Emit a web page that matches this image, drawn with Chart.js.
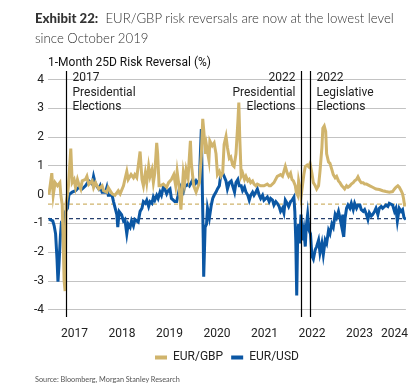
<!DOCTYPE html>
<html>
<head>
<meta charset="utf-8">
<script src="https://cdn.jsdelivr.net/npm/chart.js@4.4.1/dist/chart.umd.min.js"></script>
<style>
  body { margin: 0; background: #fff; }
  #wrap { position: relative; width: 410px; height: 390px; overflow: hidden; }
  #chart { position: absolute; left: 0; top: 0; }
  .txt { position: absolute; white-space: nowrap; }
  #title { left: 35px; top: 8px; font: 300 13.2px/20px Lato, 'Open Sans', sans-serif; color: #2e2e2e; }
  #title b { font-weight: 900; color: #333; }
  #ytitle { left: 48px; top: 55px; font: 12px/14px Roboto, sans-serif; color: #111; }
  #source { left: 35px; top: 375px; font: 7.3px/10px Lato, sans-serif; color: #555; }
</style>
</head>
<body>
<div id="wrap">
  <canvas id="chart" width="410" height="390"></canvas>
  <div class="txt" id="title"><b>Exhibit 22:</b>&nbsp; EUR/GBP risk reversals are now at the lowest level<br>since October 2019</div>
  <div class="txt" id="ytitle">1-Month 25D Risk Reversal (%)</div>
  <div class="txt" id="source">Source: Bloomberg, Morgan Stanley Research</div>
</div>
<script>
// 1M 25D risk reversals, dates as decimal years
const gbpDates = [
  2016.96, 2017.02, 2017.05, 2017.09, 2017.14, 2017.19, 2017.21, 2017.24, 2017.28, 2017.30,
  2017.32, 2017.35, 2017.37, 2017.42, 2017.45, 2017.49, 2017.52, 2017.56, 2017.59, 2017.63,
  2017.66, 2017.73, 2017.76, 2017.80, 2017.87, 2017.90, 2017.94, 2018.01, 2018.08, 2018.11,
  2018.18, 2018.21, 2018.29, 2018.35, 2018.42, 2018.46, 2018.53, 2018.56, 2018.60, 2018.63,
  2018.69, 2018.74, 2018.77, 2018.81, 2018.88, 2018.92, 2018.95, 2018.99, 2019.02, 2019.06,
  2019.09, 2019.13, 2019.16, 2019.19, 2019.23, 2019.25, 2019.28, 2019.31, 2019.37, 2019.44,
  2019.48, 2019.54, 2019.59, 2019.63, 2019.66, 2019.70, 2019.74, 2019.79, 2019.82, 2019.85,
  2019.89, 2019.94, 2019.96, 2020.01, 2020.06, 2020.13, 2020.17, 2020.20, 2020.22, 2020.26,
  2020.28, 2020.33, 2020.35, 2020.40, 2020.44, 2020.48, 2020.51, 2020.55, 2020.58, 2020.62,
  2020.65, 2020.69, 2020.72, 2020.76, 2020.79, 2020.83, 2020.86, 2020.90, 2020.94, 2020.96,
  2020.98, 2021.01, 2021.04, 2021.08, 2021.11, 2021.15, 2021.18, 2021.21, 2021.25, 2021.28,
  2021.32, 2021.35, 2021.42, 2021.49, 2021.56, 2021.60, 2021.63, 2021.70, 2021.77, 2021.84,
  2021.88, 2021.91, 2021.94, 2021.98, 2022.01, 2022.05, 2022.08, 2022.11, 2022.15, 2022.17,
  2022.20, 2022.22, 2022.24, 2022.27, 2022.30, 2022.33, 2022.36, 2022.40, 2022.43, 2022.46,
  2022.50, 2022.53, 2022.57, 2022.60, 2022.64, 2022.67, 2022.71, 2022.73, 2022.76, 2022.79,
  2022.81, 2022.85, 2022.88, 2022.92, 2022.95, 2022.99, 2023.02, 2023.06, 2023.09, 2023.13,
  2023.16, 2023.19, 2023.23, 2023.26, 2023.30, 2023.33, 2023.37, 2023.40, 2023.44, 2023.47,
  2023.51, 2023.54, 2023.58, 2023.61, 2023.65, 2023.72, 2023.78, 2023.85, 2023.92, 2023.99,
  2024.06, 2024.13, 2024.20, 2024.24, 2024.27, 2024.31, 2024.34, 2024.38, 2024.41, 2024.43,
  2024.45, 2024.48
];
const gbpRR = [
  0.0, 0.75, -0.02, 0.42, 0.31, 0.42, 0.0, -0.35, -3.0, -3.35,
  -0.3, 0.0, 0.3, 1.6, 0.42, 0.53, 0.25, 0.53, 0.36, 0.2,
  0.48, 0.53, 0.64, 0.36, 0.48, 0.25, 0.42, 0.2, 0.31, 0.14,
  0.09, 0.25, 0.03, -0.02, 0.14, 0.03, 0.31, 0.53, 0.81, 0.53,
  0.7, 0.59, 0.7, 0.6, 1.5, 0.53, 0.31, 0.75, 0.42, 0.98,
  0.64, 0.87, 0.42, 0.75, 1.8, 1.42, 0.31, 0.31, 0.37, 0.26,
  0.42, 0.53, 0.7, 0.31, 0.81, 0.31, -0.52, 0.75, 0.42, 0.87,
  0.59, 1.87, 1.09, 0.31, 0.09, 0.42, 1.37, 2.64, 2.26, 1.42,
  1.7, 1.2, 1.87, 1.7, 1.8, 1.42, 0.7, 0.81, 0.64, 0.75,
  1.75, 2.03, 1.64, 1.26, 1.31, 1.03, 0.98, 1.42, 2.53, 3.2,
  1.98, 0.64, 0.75, 0.53, 0.64, 0.48, 0.53, 0.42, 0.48, 0.37,
  0.31, 0.37, 0.31, 0.31, 0.37, 0.31, 0.31, 0.42, 0.64, 0.7,
  0.64, 0.81, 0.98, 0.75, 0.64, 0.75, 0.53, 0.48, 0.31, 0.09,
  -0.02, 0.48, 0.31, -0.08, 0.31, 0.7, 0.98, 1.03, 0.98, 1.09,
  0.75, 0.42, 0.31, 0.2, 0.31, 0.81, 1.64, 2.31, 2.39, 2.2,
  1.42, 1.14, 1.09, 0.87, 0.7, 0.59, 0.64, 0.48, 0.42, 0.31,
  0.26, 0.2, 0.31, 0.26, 0.31, 0.37, 0.42, 0.48, 0.53, 0.62,
  0.48, 0.42, 0.42, 0.37, 0.37, 0.31, 0.26, 0.2, 0.18, 0.14,
  0.11, 0.09, 0.11, 0.2, 0.26, 0.31, 0.26, 0.14, 0.03, -0.13,
  -0.36, -0.36
];
const usdDates = [
  2016.96, 2017.04, 2017.07, 2017.10, 2017.13, 2017.15, 2017.17, 2017.20, 2017.22, 2017.26,
  2017.31, 2017.35, 2017.38, 2017.45, 2017.52, 2017.59, 2017.66, 2017.73, 2017.80, 2017.87,
  2017.90, 2017.94, 2018.01, 2018.04, 2018.08, 2018.15, 2018.18, 2018.21, 2018.29, 2018.32,
  2018.39, 2018.41, 2018.44, 2018.49, 2018.53, 2018.56, 2018.60, 2018.63, 2018.67, 2018.70,
  2018.74, 2018.77, 2018.84, 2018.88, 2018.92, 2018.95, 2018.99, 2019.02, 2019.06, 2019.09,
  2019.13, 2019.16, 2019.19, 2019.23, 2019.26, 2019.30, 2019.33, 2019.37, 2019.40, 2019.44,
  2019.47, 2019.51, 2019.54, 2019.58, 2019.61, 2019.65, 2019.68, 2019.72, 2019.75, 2019.79,
  2019.82, 2019.85, 2019.89, 2019.92, 2019.96, 2019.99, 2020.03, 2020.06, 2020.10, 2020.13,
  2020.17, 2020.19, 2020.21, 2020.22, 2020.25, 2020.28, 2020.30, 2020.34, 2020.38, 2020.41,
  2020.44, 2020.48, 2020.51, 2020.55, 2020.58, 2020.62, 2020.65, 2020.69, 2020.72, 2020.76,
  2020.80, 2020.83, 2020.87, 2020.90, 2020.94, 2020.97, 2021.01, 2021.04, 2021.08, 2021.11,
  2021.15, 2021.18, 2021.21, 2021.25, 2021.28, 2021.32, 2021.35, 2021.39, 2021.42, 2021.46,
  2021.49, 2021.53, 2021.56, 2021.60, 2021.63, 2021.67, 2021.70, 2021.74, 2021.77, 2021.81,
  2021.84, 2021.88, 2021.91, 2021.94, 2021.98, 2022.01, 2022.05, 2022.08, 2022.12, 2022.14,
  2022.16, 2022.18, 2022.20, 2022.22, 2022.24, 2022.27, 2022.30, 2022.33, 2022.36, 2022.38,
  2022.41, 2022.44, 2022.47, 2022.50, 2022.53, 2022.57, 2022.60, 2022.64, 2022.67, 2022.71,
  2022.74, 2022.78, 2022.81, 2022.85, 2022.88, 2022.92, 2022.95, 2022.99, 2023.02, 2023.06,
  2023.09, 2023.13, 2023.15, 2023.17, 2023.20, 2023.23, 2023.26, 2023.30, 2023.33, 2023.37,
  2023.40, 2023.44, 2023.47, 2023.51, 2023.54, 2023.58, 2023.61, 2023.65, 2023.68, 2023.71,
  2023.75, 2023.78, 2023.82, 2023.85, 2023.89, 2023.92, 2023.96, 2023.99, 2024.03, 2024.06,
  2024.10, 2024.13, 2024.17, 2024.20, 2024.24, 2024.27, 2024.30, 2024.34, 2024.38, 2024.41,
  2024.44, 2024.48
];
const usdRR = [
  -0.85, -0.91, -1.08, -1.36, -2.24, -3.02, -2.47, -1.47, -1.02, -1.1,
  -0.58, -0.47, 0.0, 0.09, 0.14, 0.26, 0.2, 0.31, 0.48, 0.37,
  0.64, 0.37, 0.2, 0.31, 0.09, 0.09, 0.26, -0.02, -0.02, -0.24,
  -0.69, -1.13, -0.58, -0.69, -0.91, -0.86, -1.36, -1.02, -1.13, -0.91,
  -1.08, -0.86, -0.95, -0.58, -0.47, -0.24, -0.3, -0.19, -0.41, -0.24,
  -0.3, -0.08, -0.19, -0.02, -0.13, 0.09, -0.02, 0.26, 0.2, 0.03,
  0.14, 0.2, -0.13, -0.19, -0.24, -0.24, -0.02, 0.31, 0.2, 0.09,
  0.31, 0.31, 0.37, 0.31, 0.42, 0.53, 0.37, 0.48, 0.37, 0.53,
  2.28, 0.31, -1.5, -2.85, -1.13, -1.02, -0.47, -0.8, -0.36, -0.13,
  -0.02, 0.09, 0.2, 0.31, 0.7, 0.75, 0.64, 0.48, 0.2, 0.42,
  0.48, 0.31, 0.09, 0.42, 0.53, 0.31, 0.31, 0.14, 0.26, 0.09,
  -0.02, -0.19, -0.02, 0.09, -0.02, 0.09, 0.2, -0.02, -0.13, -0.02,
  -0.19, -0.13, -0.08, -0.24, -0.13, -0.19, -0.36, -0.24, -0.3, -0.41,
  -0.58, -0.47, -0.63, -0.19, -0.3, -0.41, -0.24, -0.19, -0.08, -0.58,
  -1.58, -3.5, -1.36, -1.02, -1.69, -0.69, -1.58, -1.24, -1.8, -1.13,
  -0.69, -1.24, -1.36, -2.13, -2.24, -1.91, -1.8, -1.58, -2.02, -1.69,
  -2.08, -1.58, -1.69, -1.24, -1.36, -1.02, -1.13, -0.69, -0.8, -0.58,
  -0.8, -1.13, -0.69, -1.47, -0.8, -0.47, -0.36, -0.47, -0.3, -0.52,
  -0.3, -0.47, -0.36, -0.36, -0.52, -0.58, -0.52, -0.69, -0.86, -0.63,
  -0.74, -0.69, -0.58, -0.47, -0.69, -0.47, -0.41, -0.47, -0.41, -0.36,
  -0.41, -0.3, -0.33, -0.36, -0.58, -0.47, -0.91, -0.47, -0.58, -0.52,
  -0.8, -0.86
];

// current levels (dashed lines)
const gbpRef = -0.33;
const usdRef = -0.83;

const yearLabels = ['2017', '2018', '2019', '2020', '2021', '2022', '2023', '2024'];
const yTicks = [-4, -3, -2, -1, 0, 1, 2, 3, 4];

const electionDates = [2017.31, 2022.27, 2022.45];
const electionLabels = [
  ['2017', 'Presidential', 'Elections'],
  ['2022', 'Presidential', 'Elections'],
  ['2022', 'Legislative', 'Elections']
];

const xMin = 2016.94, xMax = 2024.48;
const GOLD = '#d0b46c';
const BLUE = '#0b57a4';
const NAVY = '#27406e';

const toPoints = (xs, ys) => xs.map((x, i) => ({ x: x, y: ys[i] }));

const electionPlugin = {
  id: 'elections',
  afterDatasetsDraw(chart) {
    const { ctx, chartArea: a, scales: { x } } = chart;
    ctx.save();
    electionDates.forEach((d, i) => {
      const px = Math.round(x.getPixelForValue(d)) + 0.5;
      ctx.strokeStyle = '#000';
      ctx.lineWidth = 1.2;
      ctx.beginPath();
      ctx.moveTo(px, a.top);
      ctx.lineTo(px, a.bottom);
      ctx.stroke();

      // the middle one sits left of its line
      const right = i === 1;
      ctx.fillStyle = '#222';
      ctx.font = '12px Roboto';
      ctx.textBaseline = 'middle';
      ctx.textAlign = right ? 'right' : 'left';
      electionLabels[i].forEach((t, j) => {
        ctx.fillText(t, px + (right ? -6 : 6), a.top + 7 + j * 14.5);
      });
    });
    ctx.restore();
  }
};

new Chart(document.getElementById('chart'), {
  type: 'line',
  data: {
    datasets: [
      {
        label: 'EUR/GBP',
        data: toPoints(gbpDates, gbpRR),
        borderColor: GOLD,
        backgroundColor: GOLD,
        borderWidth: 3,
        pointRadius: 0,
        order: 0
      },
      {
        label: 'EUR/USD',
        data: toPoints(usdDates, usdRR),
        borderColor: BLUE,
        backgroundColor: BLUE,
        borderWidth: 3,
        pointRadius: 0,
        order: 1
      },
      {
        label: 'gbpRef',
        data: [{ x: xMin, y: gbpRef }, { x: xMax, y: gbpRef }],
        borderColor: GOLD,
        borderWidth: 1.3,
        borderDash: [4, 3],
        pointRadius: 0,
        order: 2
      },
      {
        label: 'usdRef',
        data: [{ x: xMin, y: usdRef }, { x: xMax, y: usdRef }],
        borderColor: NAVY,
        borderWidth: 1.3,
        borderDash: [4, 3],
        pointRadius: 0,
        order: 3
      }
    ]
  },
  options: {
    responsive: false,
    animation: false,
    layout: {
      padding: { top: 71, bottom: 16.6, left: 0, right: 0 },
      autoPadding: false
    },
    scales: {
      x: {
        type: 'linear',
        min: xMin,
        max: xMax,
        grid: { display: false },
        border: { display: false },
        // label each year in the middle of its visible part
        afterBuildTicks: s => {
          s.ticks = yearLabels.map(y => ({ value: (Math.max(+y, xMin) + Math.min(+y + 1, xMax)) / 2 }));
        },
        ticks: {
          autoSkip: false,
          maxRotation: 0,
          padding: 2,
          color: '#222',
          font: { family: 'Roboto', size: 12 },
          callback: v => String(Math.floor(v))
        }
      },
      y: {
        min: -4.25,
        max: 4.3,
        afterBuildTicks: s => { s.ticks = yTicks.map(v => ({ value: v })); },
        afterFit: s => { s.width = 48; },
        grid: { color: '#c3c3c3', lineWidth: 1, drawTicks: false },
        border: { display: false },
        ticks: {
          padding: 4,
          color: '#222',
          font: { family: 'Roboto', size: 12 },
          callback: v => String(v)
        }
      }
    },
    plugins: {
      tooltip: { enabled: false },
      legend: {
        position: 'bottom',
        fullSize: false,
        labels: {
          boxWidth: 12,
          boxHeight: 4,
          padding: 8,
          color: '#222',
          font: { family: 'Roboto', size: 12 },
          generateLabels: chart => Chart.defaults.plugins.legend.labels.generateLabels(chart)
            .filter(l => l.datasetIndex < 2)
            .map(l => Object.assign(l, { lineWidth: 0 }))
        }
      }
    }
  },
  plugins: [electionPlugin]
});
</script>
</body>
</html>
